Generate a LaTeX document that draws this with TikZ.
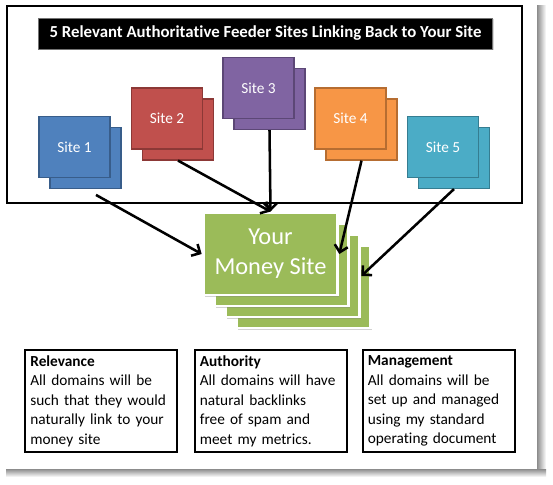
\documentclass[tikz,border=0pt]{standalone}
\usepackage{fontspec}
\setmainfont{Carlito}[Ligatures=NoCommon]
\usetikzlibrary{arrows.meta,shadows}
\definecolor{siteblue}{HTML}{4F81BD}
\definecolor{sitebluerim}{HTML}{385D8A}
\definecolor{sitered}{HTML}{C0504D}
\definecolor{siteredrim}{HTML}{8C3836}
\definecolor{sitepurple}{HTML}{8064A2}
\definecolor{sitepurplerim}{HTML}{5C4776}
\definecolor{siteorange}{HTML}{F79646}
\definecolor{siteorangerim}{HTML}{B66D31}
\definecolor{siteaqua}{HTML}{4BACC6}
\definecolor{siteaquarim}{HTML}{357D91}
\definecolor{moneygreen}{HTML}{9BBB59}
\tikzset{
  sitebox/.style={draw=#1rim, fill=#1, line width=1.1pt, minimum width=53pt,
    minimum height=45.5pt, inner sep=0pt, text=white,
    font=\fontsize{11.5}{13}\selectfont},
  moneybox/.style={draw=white, fill=moneygreen, line width=2.2pt,
    minimum width=101pt, minimum height=61.5pt, inner sep=0pt,
    drop shadow={opacity=0.35, shadow xshift=1.2pt, shadow yshift=-1.2pt}},
  titlebar/.style={fill=black, draw=black!55, line width=0.6pt,
    minimum width=340pt, minimum height=23.25pt, inner sep=0pt, text=white,
    font=\bfseries\fontsize{12.6}{14}\selectfont,
    drop shadow={opacity=0.3, shadow xshift=1pt, shadow yshift=-1pt}},
  notebox/.style={draw=black, line width=1.5pt, text width=106pt,
    minimum height=76.5pt, inner xsep=4pt, inner ysep=0pt, align=left,
    font=\fontsize{11.5}{14.6}\selectfont},
  feed/.style={line width=1.9pt, -{Straight Barb[length=5pt, width=10pt]}}
}
\begin{document}
\begin{tikzpicture}[x=0.75pt, y=-0.75pt]
\useasboundingbox (0,0) rectangle (553,485);
% page and its shadow
\shade[left color=black!45, right color=white] (537,6) rectangle (546,477);
\shade[top color=black!45, bottom color=white] (6,469) rectangle (546,477);
\fill[white] (0,0) rectangle (537,469);
% feeder frame
\draw[line width=2pt] (7,6) rectangle (522,203);
\node[titlebar] (title) at (265.5,33.5) {5 Relevant Authoritative Feeder Sites Linking Back to Your Site};
% feeder sites
\foreach \i/\x/\y/\c in {1/74.5/147/siteblue, 2/167/118.5/sitered, 3/258.5/88/sitepurple,
    4/350.5/118.5/siteorange, 5/443/147/siteaqua} {
  \node[sitebox=\c] (s\i b) at (\x+11,\y+11) {};
  \node[sitebox=\c] (s\i) at (\x,\y) {Site \i};
}
% money site stack
\foreach \k in {3,2,1} {\node[moneybox] (m\k) at ({270.5+11*\k},{254+11*\k}) {};}
\node[moneybox, align=center, text=white, font=\fontsize{18.3}{22.5}\selectfont] (m) at (270.5,254) {Your\\Money Site};
% links
\draw[feed, shorten <=9pt] (s1b.south) -- (m.west);
\draw[feed] (s2b.south) -- (m.north);
\draw[feed] (s3b.south) -- (m.north);
\draw[feed] (s4b.south) -- (m.east);
\draw[feed] (s5b.south) -- (m2.east);
% notes
\node[notebox] (rel) at (101,401) {\textbf{Relevance}\\All domains will be\\such that they would\\naturally link to your\\money site};
\node[notebox] (auth) at (270.5,401) {\textbf{Authority}\\All domains will have\\natural backlinks\\free of spam and\\meet my metrics.};
\node[notebox] (man) at (438.5,401) {\textbf{Management}\\All domains will be\\set up and managed\\using my standard\\operating document};
\end{tikzpicture}
\end{document}
